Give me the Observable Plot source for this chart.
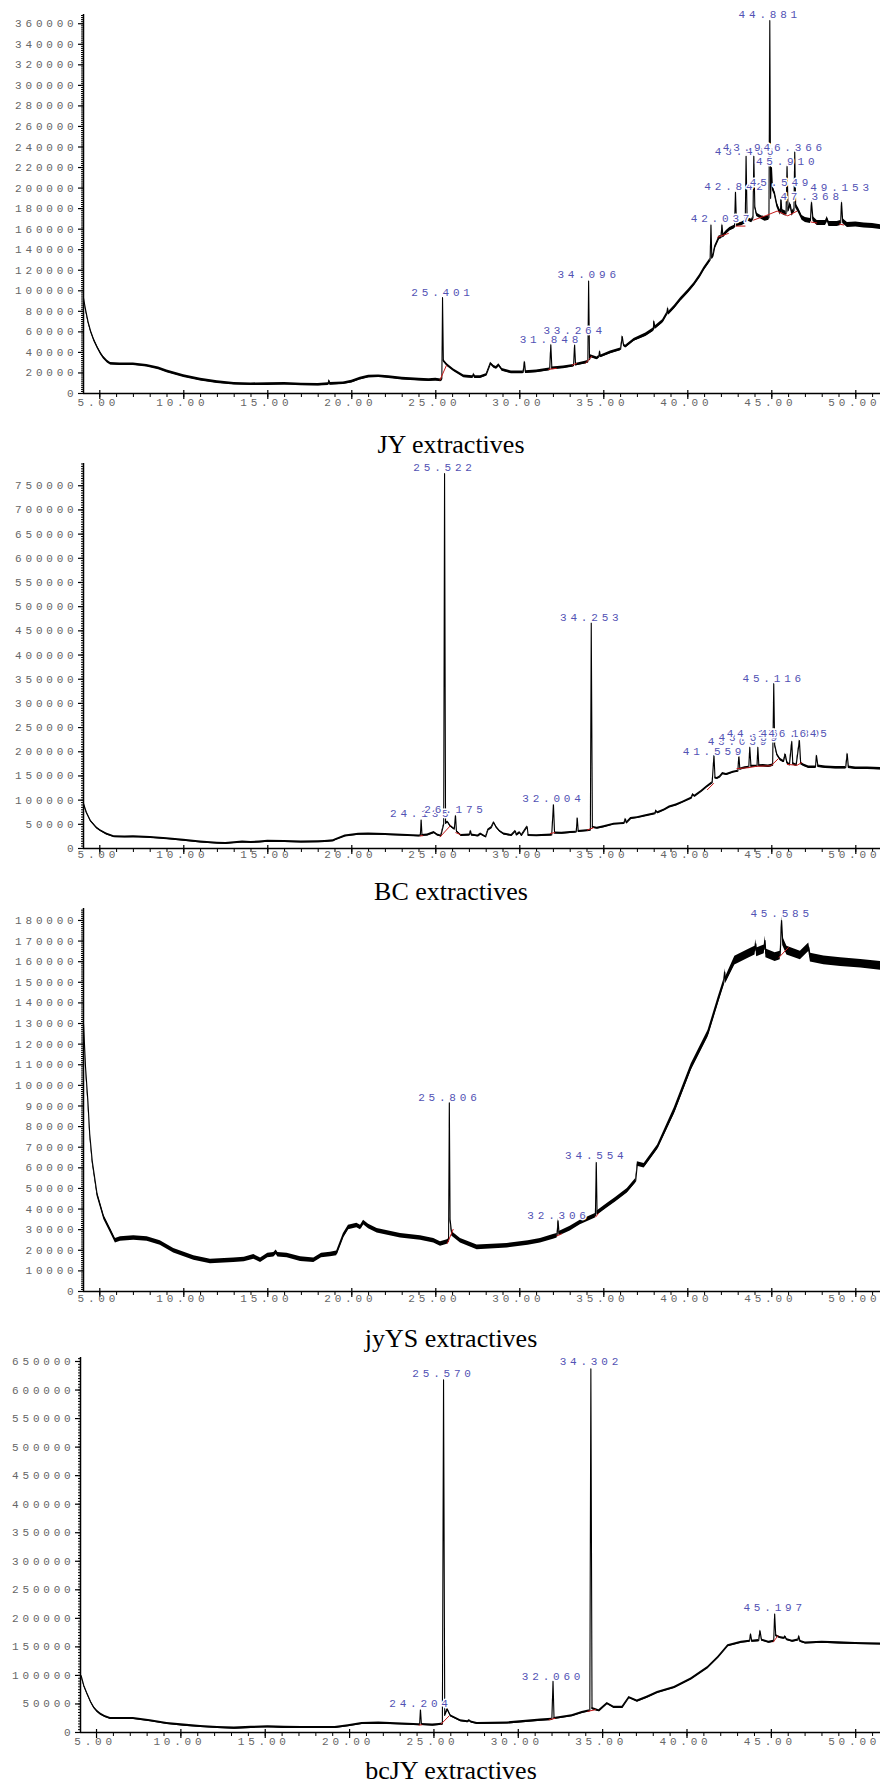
<!DOCTYPE html>
<html><head><meta charset="utf-8">
<script src="https://cdn.jsdelivr.net/npm/d3@7"></script>
<script src="https://cdn.jsdelivr.net/npm/@observablehq/plot@0.6"></script>
<style>
html,body{margin:0;padding:0;background:#fff;}
#root{position:relative;width:880px;height:1784px;overflow:hidden;background:#fff;}
.panel{position:absolute;left:0;}
.panel svg text{font-family:"Liberation Mono",monospace;letter-spacing:3.8px;}
.title{position:absolute;left:301px;width:300px;text-align:center;font-family:"Liberation Serif","Times New Roman",serif;font-size:26px;line-height:26px;color:#000;white-space:nowrap;}
</style></head>
<body><div id="root"></div>
<script>
// ---------- shared axis data ----------
const xTickLabels = [5, 10, 15, 20, 25, 30, 35, 40, 45, 50];

// ---------- Panel 1: JY extractives ----------
const jyTitle = "JY extractives";
const jyYTicks = [0,20000,40000,60000,80000,100000,120000,140000,160000,180000,200000,220000,240000,260000,280000,300000,320000,340000,360000];
const jyTrace = [[4.03,93000],[4.15,82000],[4.3,70000],[4.45,61000],[4.65,52000],[4.85,45000],[5.05,39000],[5.22,35000],[5.45,31000],[5.64,29000],[6.2,28500],[7.0,28500],[7.8,27000],[8.5,24500],[9.0,21500],[10.0,17000],[11.0,13500],[12.0,11000],[13.0,9500],[14.0,9000],[15.0,9200],[16.0,9500],[17.0,8800],[18.0,8500],[18.6,9200],[18.65,12500],[18.7,9300],[19.5,10000],[20.0,11500],[20.5,14500],[21.0,16500],[21.6,16800],[22.2,16000],[23.0,14500],[24.0,13500],[24.6,13000],[25.0,13500],[25.3,12800],[25.36,14500],[25.401,93300],[25.45,32000],[25.68,27600],[26.07,22600],[26.67,16700],[27.2,16000],[27.26,18700],[27.32,16000],[27.66,16000],[28.0,18000],[28.26,29200],[28.46,26000],[28.6,25000],[28.75,27600],[28.95,23000],[29.5,20500],[30.2,20500],[30.28,30800],[30.34,20800],[31.0,21500],[31.78,23500],[31.848,47300],[31.91,24500],[32.6,25500],[33.2,27000],[33.264,47300],[33.32,28000],[33.9,30000],[34.05,30800],[34.096,109600],[34.15,33000],[34.21,36400],[34.6,34200],[34.72,36000],[34.75,41000],[34.8,36000],[35.4,40000],[36.0,43000],[36.1,55500],[36.18,47000],[36.3,45600],[36.8,52200],[37.5,57100],[37.95,62000],[37.98,70200],[38.05,64000],[38.5,70200],[38.77,78000],[38.8,83000],[38.85,78000],[39.2,84000],[39.57,91500],[40.0,99000],[40.36,106000],[40.7,114000],[40.95,121000],[41.25,128000],[41.33,130000],[41.38,164000],[41.43,132000],[41.5,134000],[41.6,142000],[41.87,152000],[41.98,152000],[42.037,164000],[42.09,153000],[42.3,157000],[42.5,160000],[42.78,162000],[42.84,196000],[42.9,164000],[43.2,165000],[43.42,167000],[43.47,231000],[43.53,170000],[43.8,168000],[43.88,171000],[43.93,231000],[43.99,182000],[44.1,174000],[44.4,171000],[44.6,170000],[44.83,171000],[44.881,363000],[44.93,190000],[44.98,220000],[45.04,200000],[45.15,196000],[45.3,184000],[45.45,178000],[45.51,176000],[45.549,190000],[45.6,177000],[45.85,175000],[45.91,221000],[45.97,178000],[46.1,184000],[46.2,175000],[46.32,178000],[46.366,235000],[46.42,183000],[46.6,178000],[46.8,171000],[47.0,169000],[47.3,168000],[47.368,186000],[47.45,170000],[47.7,166000],[48.2,166000],[48.3,170000],[48.4,165000],[48.9,165000],[49.1,166000],[49.153,186000],[49.22,168000],[49.5,164000],[50.0,164500],[50.5,163500],[51.0,163000],[51.47,162000]];
const jyNoise = [[4.0,37.0,1300],[37.0,44.5,1700],[44.5,52.0,2400]];
const jyLabelTexts = ["25.401","31.848","33.264","34.096","42.037","42.842","45.549","43.466","43.938","46.366","45.910","47.368","49.153","44.881"];
const jyLabelLevels = [98000,52200,61000,116000,170400,201600,205800,235400,240000,240000,226000,191800,201000,369000];
const jyBaselines = [[25.24,12800,25.64,27600],[31.7,23500,32.2,24500],[33.1,27500,33.4,29500],[33.9,29200,34.3,36400],[41.75,152000,42.44,156000],[42.84,163000,43.43,163000],[43.89,168700,44.62,173000],[44.62,173000,45.32,177600],[45.32,177600,45.95,173000],[45.95,173000,46.51,177600],[47.3,167000,47.7,166000],[49.0,165000,49.3,164000]];

// ---------- Panel 2: BC extractives ----------
const bcTitle = "BC extractives";
const bcYTicks = [0,50000,100000,150000,200000,250000,300000,350000,400000,450000,500000,550000,600000,650000,700000,750000];
const bcTrace = [[4.03,93000],[4.2,75000],[4.45,57000],[4.8,43000],[5.04,37000],[5.4,30000],[5.85,24500],[6.5,24000],[7.0,24500],[8.0,23000],[9.0,20500],[10.0,17000],[11.0,13500],[12.0,11000],[12.5,10500],[13.0,12000],[13.5,13500],[14.0,12500],[14.5,13500],[15.0,15000],[16.0,14500],[17.0,13500],[18.0,14000],[18.4,14500],[18.9,16000],[19.0,18000],[19.6,26000],[20.4,29500],[21.0,30000],[22.0,29000],[23.0,27500],[24.0,26000],[24.08,26500],[24.13,58800],[24.18,27000],[24.5,28000],[24.9,33000],[25.1,28000],[25.3,26000],[25.4,40000],[25.47,50000],[25.522,775000],[25.58,52000],[25.7,55000],[25.85,47000],[26.1,40000],[26.175,67700],[26.23,36000],[26.5,27000],[27.0,28000],[27.07,36600],[27.12,28000],[27.5,26000],[27.67,30000],[27.97,24000],[28.1,38000],[28.3,43000],[28.45,54000],[28.6,44000],[28.8,36000],[29.05,30000],[29.5,27000],[29.74,36000],[29.8,28000],[30.0,33000],[30.1,27000],[30.44,45000],[30.5,27000],[31.0,26500],[31.9,28000],[32.004,90500],[32.07,32000],[32.5,31500],[33.0,33000],[33.36,34000],[33.42,63000],[33.48,35500],[34.0,37000],[34.2,38000],[34.253,466000],[34.32,44000],[34.6,42000],[35.0,45000],[35.6,50500],[36.2,52000],[36.29,61000],[36.35,53000],[36.6,62000],[37.0,64000],[37.5,68000],[38.05,72000],[38.1,78000],[38.2,74000],[38.6,80000],[38.9,86000],[39.3,90000],[39.7,96000],[40.2,104000],[40.3,112000],[40.4,108000],[40.8,118000],[41.1,127000],[41.45,136000],[41.559,192000],[41.62,146000],[41.75,145000],[41.9,148000],[42.07,155000],[42.3,153000],[42.7,158000],[42.98,160000],[43.04,192000],[43.1,164000],[43.4,167000],[43.63,168000],[43.69,209000],[43.76,170000],[44.0,170000],[44.12,170000],[44.17,209000],[44.23,171000],[44.5,171000],[44.8,170000],[45.05,172000],[45.116,341000],[45.17,215000],[45.3,195000],[45.5,184000],[45.7,180000],[45.8,195000],[45.9,178000],[46.05,173000],[46.19,221000],[46.25,175000],[46.45,172000],[46.645,223000],[46.72,176000],[46.9,172000],[47.2,168000],[47.6,168000],[47.66,192000],[47.75,170000],[48.2,168000],[48.8,167000],[49.4,167000],[49.49,196000],[49.56,168000],[50.0,166000],[50.7,166000],[51.47,165000]];
const bcNoise = [[4.0,44.5,1900],[44.5,52.0,2600]];
const bcLabelTexts = ["24.135","26.175","32.004","34.253","41.559","43.039","43.689","44.173","46.189","46.645","45.116","25.522"];
const bcLabelLevels = [71800,80100,102900,477500,201400,222000,230000,237000,237400,237400,351300,788000];
const bcBaselines = [[24.05,26000,24.25,26500],[25.24,23400,25.88,47600],[26.17,33000,26.47,29000],[31.8,31000,32.1,33000],[34.0,38000,34.4,43000],[41.15,121000,41.55,135000],[42.9,165000,43.6,167000],[43.6,167000,44.1,170000],[44.1,170000,44.95,171000],[44.95,171000,45.4,186000],[45.9,174000,46.5,172000],[46.5,172000,46.8,178000]];

// ---------- Panel 3: jyYS extractives ----------
const ysTitle = "jyYS extractives";
const ysYTicks = [0,10000,20000,30000,40000,50000,60000,70000,80000,90000,100000,110000,120000,130000,140000,150000,160000,170000,180000];
const ysTrace = [[4.03,130000],[4.1,118000],[4.15,109000],[4.29,92600],[4.4,76500],[4.55,63400],[4.84,47300],[5.24,36000],[5.64,29500],[5.93,24600],[6.23,25500],[7.02,26000],[7.82,25500],[8.6,23500],[9.4,19800],[10.6,16200],[11.59,14600],[12.98,15200],[13.6,15500],[14.17,16800],[14.57,15200],[15.0,17500],[15.36,17800],[15.5,19000],[15.6,17800],[16.15,17500],[16.95,15700],[17.74,15200],[18.2,17500],[18.73,18000],[19.1,18500],[19.5,27000],[19.8,31000],[20.3,32000],[20.52,31000],[20.7,33500],[21.0,31500],[21.51,29500],[22.9,27000],[24.09,26000],[24.88,24600],[25.28,23000],[25.68,24000],[25.76,24500],[25.806,91500],[25.85,35000],[25.95,28000],[26.47,24600],[27.46,21400],[29.25,22200],[30.5,23500],[31.23,24600],[32.0,26500],[32.22,27000],[32.28,34300],[32.34,28000],[33.0,30500],[33.6,33500],[34.3,36000],[34.5,36700],[34.554,62600],[34.6,38000],[35.2,41600],[35.7,44500],[36.4,48900],[36.9,53700],[37.0,61900],[37.4,61000],[38.2,70000],[39.2,87700],[40.2,108800],[41.2,125000],[41.8,141000],[42.15,150000],[42.2,155000],[42.25,151000],[42.8,160500],[43.6,163800],[44.0,165400],[44.05,168700],[44.1,164500],[44.55,166000],[44.6,170300],[44.65,164000],[45.2,162200],[45.5,163000],[45.585,180000],[45.65,170000],[45.9,165400],[46.7,163000],[47.2,167000],[47.3,162000],[48.1,160600],[49.1,159800],[50.3,159000],[51.47,158000]];
const ysNoise = [[4.0,39.0,1100],[39.0,42.5,1600],[42.5,52.0,2100]];
const ysLabelTexts = ["25.806","32.306","34.554","45.585"];
const ysLabelLevels = [94300,36900,66000,183400];
const ysBaselines = [[25.68,23200,26.04,30300],[32.2,27000,32.5,28000],[34.5,36000,34.7,38000],[45.42,162000,46.0,167000]];

// ---------- Panel 4: bcJY extractives ----------
const bjTitle = "bcJY extractives";
const bjYTicks = [0,50000,100000,150000,200000,250000,300000,350000,400000,450000,500000,550000,600000,650000];
const bjTrace = [[4.05,100000],[4.09,99400],[4.25,82000],[4.45,67300],[4.65,54000],[4.84,43800],[5.04,37000],[5.24,32200],[5.5,28000],[5.83,24500],[6.49,24500],[7.19,24500],[8.19,20500],[9.18,15800],[10.18,12900],[11.17,10500],[12.17,8800],[13.17,7700],[14.16,9000],[15.16,10000],[16.15,9000],[17.15,8800],[18.15,8800],[19.14,8800],[19.92,11700],[20.73,15800],[21.73,16500],[23.12,15000],[24.15,13500],[24.204,39300],[24.26,14000],[24.92,13000],[25.32,14000],[25.5,14700],[25.57,618000],[25.64,30000],[25.79,41000],[25.98,29300],[26.58,20500],[27.0,19000],[27.1,21000],[27.2,18500],[27.57,15800],[29.35,16700],[31.32,21700],[31.99,23000],[32.06,89500],[32.12,24500],[33.18,29300],[33.78,35000],[34.24,38000],[34.302,637000],[34.37,42000],[34.48,41000],[34.78,38000],[35.27,50900],[35.67,44000],[36.16,44000],[36.56,61400],[37.05,55000],[37.65,62000],[38.24,70000],[39.24,79000],[40.23,93600],[41.23,114000],[41.83,131500],[42.42,152000],[43.22,158000],[43.71,160000],[43.77,172500],[43.84,160000],[44.25,161000],[44.33,178000],[44.42,162000],[44.85,158000],[45.14,160000],[45.197,207700],[45.26,170000],[45.5,166600],[45.75,165000],[45.83,168000],[45.9,163000],[46.25,160000],[46.58,162000],[46.63,169000],[46.7,160000],[47.02,156800],[48.01,158000],[49.0,157000],[49.99,156000],[51.47,155000]];
const bjNoise = [[4.0,52.0,1800]];
const bjLabelTexts = ["24.204","25.570","32.060","34.302","45.197"];
const bjLabelLevels = [50300,629000,98700,649400,219700];
const bjBaselines = [[24.1,13000,24.3,13500],[25.4,14000,25.9,29000],[31.8,22000,32.2,25000],[34.1,37000,34.6,40000],[45.1,158000,45.4,170000]];

// ---------- drawing ----------
const root = document.getElementById("root");
const TICK_GRAY = "#666";
const PEAK_BLUE = "#5252b4";

function noiseAt(noise, t) {
  const seg = noise.find(s => t >= s[0] && t < s[1]);
  return seg ? seg[2] : 0;
}

function drawPanel(cfg) {
  const {trace, noise, labelTexts, labelLevels, baselines, yTicks, title,
         xMin, xMax, yMax, top, height, mLeft, mTop, mBottom, xLabelDy, titleTop} = cfg;
  const plotH = height - mTop - mBottom;
  const yStep = yTicks[1] - yTicks[0];
  const yMinor = d3.range(0, yMax, yStep / 10);
  const xMinor = d3.range(5, xMax, 1);
  const labels = labelTexts.map((s, i) => ({t: +s, v: labelLevels[i], s}));
  const svg = Plot.plot({
    width: 880, height,
    marginLeft: mLeft, marginRight: 0, marginTop: mTop, marginBottom: mBottom,
    x: {domain: [xMin, xMax], axis: null},
    y: {domain: [0, yMax], axis: null},
    style: {background: "transparent", overflow: "visible"},
    marks: [
      Plot.areaY(trace, {x: d => d[0], y1: d => d[1] - noiseAt(noise, d[0]), y2: d => d[1] + noiseAt(noise, d[0]), fill: "black", curve: "linear"}),
      Plot.line(trace, {x: d => d[0], y: d => d[1], stroke: "black", strokeWidth: 1.1}),
      Plot.link(baselines, {x1: d => d[0], y1: d => d[1], x2: d => d[2], y2: d => d[3], stroke: "#c41a1a", strokeWidth: 1}),
      Plot.ruleX([xMin], {stroke: "black", strokeWidth: 1.5}),
      Plot.ruleY([0], {stroke: "black", strokeWidth: 1.5}),
      Plot.axisY(yMinor, {anchor: "left", tickSize: 2, tickFormat: () => "", label: null, stroke: "black"}),
      Plot.axisY(yTicks, {anchor: "left", tickSize: 5, tickFormat: () => "", label: null, stroke: "black", strokeWidth: 1.2}),
      Plot.axisX(xMinor, {anchor: "bottom", tickSize: 4, tickFormat: () => "", label: null, stroke: "black"}),
      Plot.axisX(xTickLabels, {anchor: "bottom", tickSize: 6, tickFormat: () => "", label: null, stroke: "black", strokeWidth: 1.2}),
      Plot.tickX(xTickLabels, {x: d => d, insetTop: plotH - 3, stroke: "black", strokeWidth: 1.2}),
      Plot.text(yTicks, {y: d => d, frameAnchor: "left", dx: -6, textAnchor: "end", text: d => String(d), fill: TICK_GRAY, fontSize: 11}),
      Plot.text(xTickLabels, {x: d => d, frameAnchor: "bottom", dx: -1.5, dy: xLabelDy, text: d => d.toFixed(2), fill: TICK_GRAY, fontSize: 11}),
      Plot.text(labels, {x: "t", y: "v", text: "s", fill: PEAK_BLUE, stroke: "white", strokeWidth: 3, paintOrder: "stroke", fontSize: 11})
    ]
  });
  const wrap = document.createElement("div");
  wrap.className = "panel";
  wrap.style.top = top + "px";
  wrap.appendChild(svg);
  root.appendChild(wrap);
  const t = document.createElement("div");
  t.className = "title";
  t.style.top = titleTop + "px";
  t.textContent = title;
  root.appendChild(t);
}

drawPanel({trace: jyTrace, noise: jyNoise, labelTexts: jyLabelTexts, labelLevels: jyLabelLevels, baselines: jyBaselines, yTicks: jyYTicks, title: jyTitle,
  xMin: 4.03, xMax: 51.47, yMax: 369000, top: 0, height: 420, mLeft: 83, mTop: 14, mBottom: 27, xLabelDy: 12, titleTop: 432});
drawPanel({trace: bcTrace, noise: bcNoise, labelTexts: bcLabelTexts, labelLevels: bcLabelLevels, baselines: bcBaselines, yTicks: bcYTicks, title: bcTitle,
  xMin: 4.03, xMax: 51.47, yMax: 796000, top: 440, height: 435, mLeft: 83, mTop: 23, mBottom: 27, xLabelDy: 9, titleTop: 879});
drawPanel({trace: ysTrace, noise: ysNoise, labelTexts: ysLabelTexts, labelLevels: ysLabelLevels, baselines: ysBaselines, yTicks: ysYTicks, title: ysTitle,
  xMin: 4.03, xMax: 51.47, yMax: 185800, top: 880, height: 438, mLeft: 83, mTop: 28, mBottom: 27, xLabelDy: 10, titleTop: 1326});
drawPanel({trace: bjTrace, noise: bjNoise, labelTexts: bjLabelTexts, labelLevels: bjLabelLevels, baselines: bjBaselines, yTicks: bjYTicks, title: bjTitle,
  xMin: 4.05, xMax: 51.47, yMax: 657000, top: 1330, height: 429, mLeft: 80, mTop: 27, mBottom: 27, xLabelDy: 12, titleTop: 1758});
</script>
</body></html>
